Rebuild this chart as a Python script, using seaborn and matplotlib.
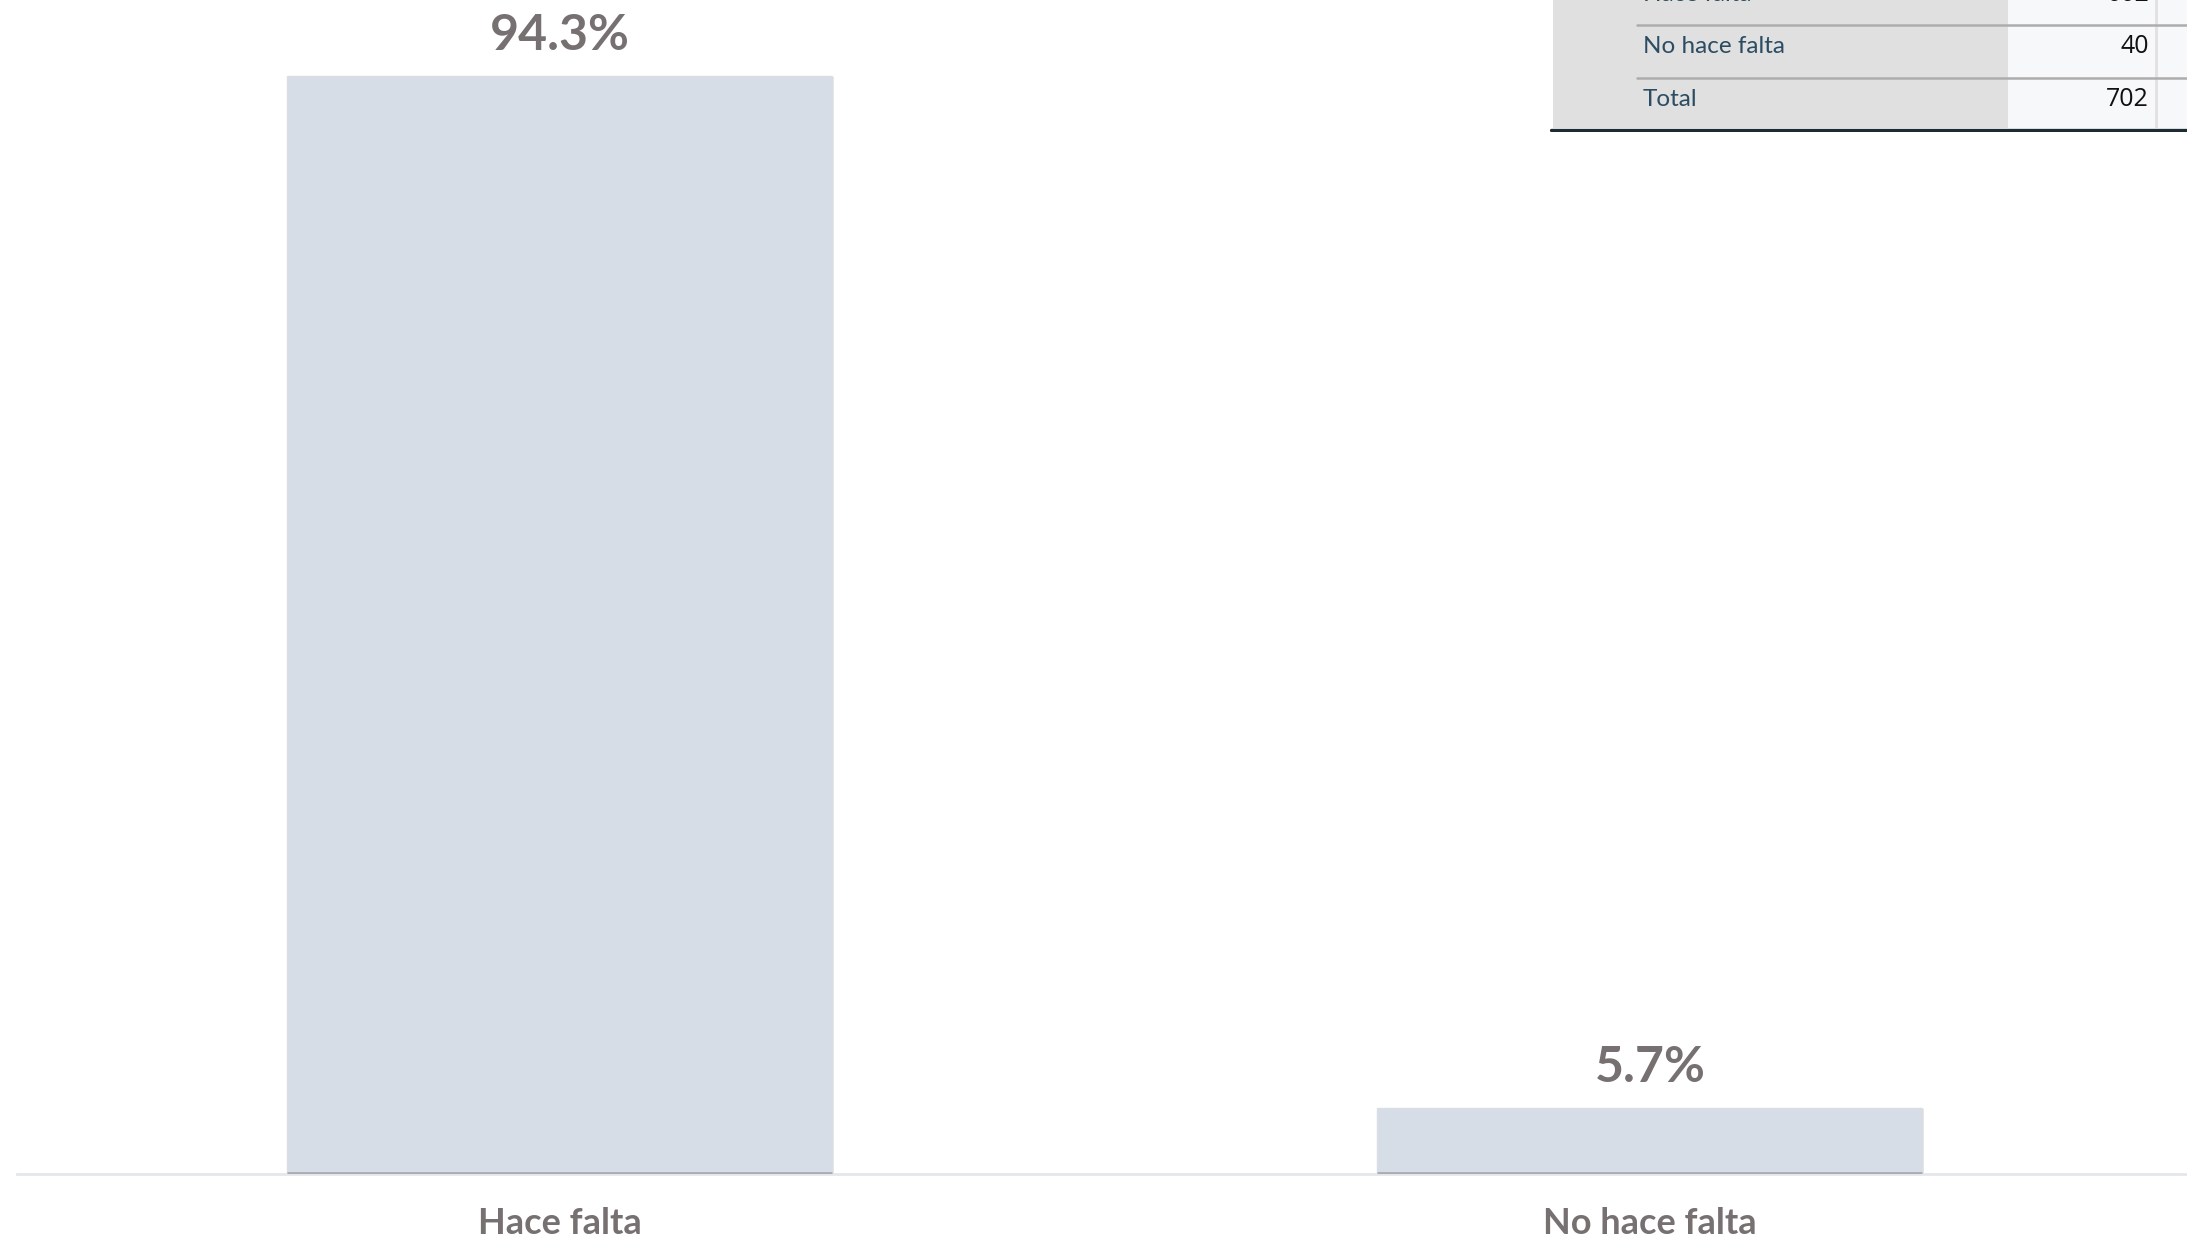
import matplotlib
matplotlib.use("Agg")
import matplotlib.pyplot as plt
import matplotlib.patheffects as pe
import seaborn as sns
import pandas as pd
from matplotlib.patches import Rectangle

# chart data
categories = ["Hace falta", "No hace falta"]
percentages = [94.3, 5.7]

# frequency table shown (cropped) in the top-right corner
table_labels = ["Hace falta", "No hace falta", "Total"]
table_counts = [662, 40, 702]

BAR_COLOR = "#d6dde6"
LABEL_GRAY = "#767170"

sns.set_theme(style="white")
plt.rcParams['font.family'] = ['Lato', 'DejaVu Sans']

W, H = 2187, 1241
fig = plt.figure(figsize=(W / 100, H / 100), dpi=100)

# main axis: baseline at y=1174px, axis line starts at x=17px
base_px = 1174
ax = fig.add_axes([17 / W, (H - base_px) / H, 1 - 17 / W, base_px / H])

df = pd.DataFrame({"cat": categories, "pct": percentages})
sns.barplot(data=df, x="cat", y="pct", color=BAR_COLOR, width=0.5, ax=ax,
            saturation=1, edgecolor="#dadde2", linewidth=1.0)

# soft shadow round the bars
for p in ax.patches:
    p.set_path_effects([pe.SimplePatchShadow(offset=(0.8, -0.8), alpha=0.12),
                        pe.Normal()])

px_per_unit = (base_px - 76) / percentages[0]
ax.set_ylim(0, base_px / px_per_unit)
ax.set_xlim(-543 / 1090, (W - 560) / 1090)

for c in ax.containers:
    ax.bar_label(c, labels=[f"{v:.1f}%" for v in percentages], padding=13,
                 fontsize=36, fontweight="bold", color=LABEL_GRAY)

# darker line at the foot of each bar
for p in ax.patches:
    ax.plot([p.get_x(), p.get_x() + p.get_width()], [0.12, 0.12],
            color="#a9acb0", lw=2, zorder=4, solid_capstyle="butt")

sns.despine(ax=ax, left=True, top=True, right=True)
ax.spines["bottom"].set_color("#e3e7eb")
ax.spines["bottom"].set_linewidth(2)
ax.set_yticks([])
ax.set_xlabel("")
ax.set_ylabel("")
ax.tick_params(axis="x", length=0, pad=24)
for t in ax.get_xticklabels():
    t.set_fontsize(26)
    t.set_fontweight("bold")
    t.set_color(LABEL_GRAY)

# table overlay, drawn in pixel coordinates
tx0, ty1 = 1550, 132
tab = fig.add_axes([tx0 / W, (H - ty1) / H, (W - tx0) / W, ty1 / H])
tab.set_xlim(tx0, W)
tab.set_ylim(ty1, 0)
tab.axis("off")
tab.add_patch(Rectangle((1553, 0), 2008 - 1553, 128, color="#e0e0e0", lw=0))
tab.add_patch(Rectangle((2008, 0), W - 2008, 128, color="#f7f8fa", lw=0))
tab.add_patch(Rectangle((2155, 0), 3, 128, color="#e2e2e2", lw=0))
for yl in [25, 78]:
    tab.plot([1637, W], [yl, yl], color="#adadad", lw=1.8)
tab.plot([1551, W], [129.5, 129.5], color="#1d2b35", lw=2.4)

baselines = [1, 53, 106]
for lab, cnt, yb in zip(table_labels, table_counts, baselines):
    tab.text(1643, yb, lab, fontsize=17.5, color="#2b4c62", va="baseline",
             ha="left", clip_on=True)
    tab.text(2149, yb, str(cnt), fontsize=18, color="#111111", va="baseline",
             ha="right", clip_on=True, family=["Open Sans", "DejaVu Sans"])

fig.savefig("out.png", dpi=100, facecolor="white")
